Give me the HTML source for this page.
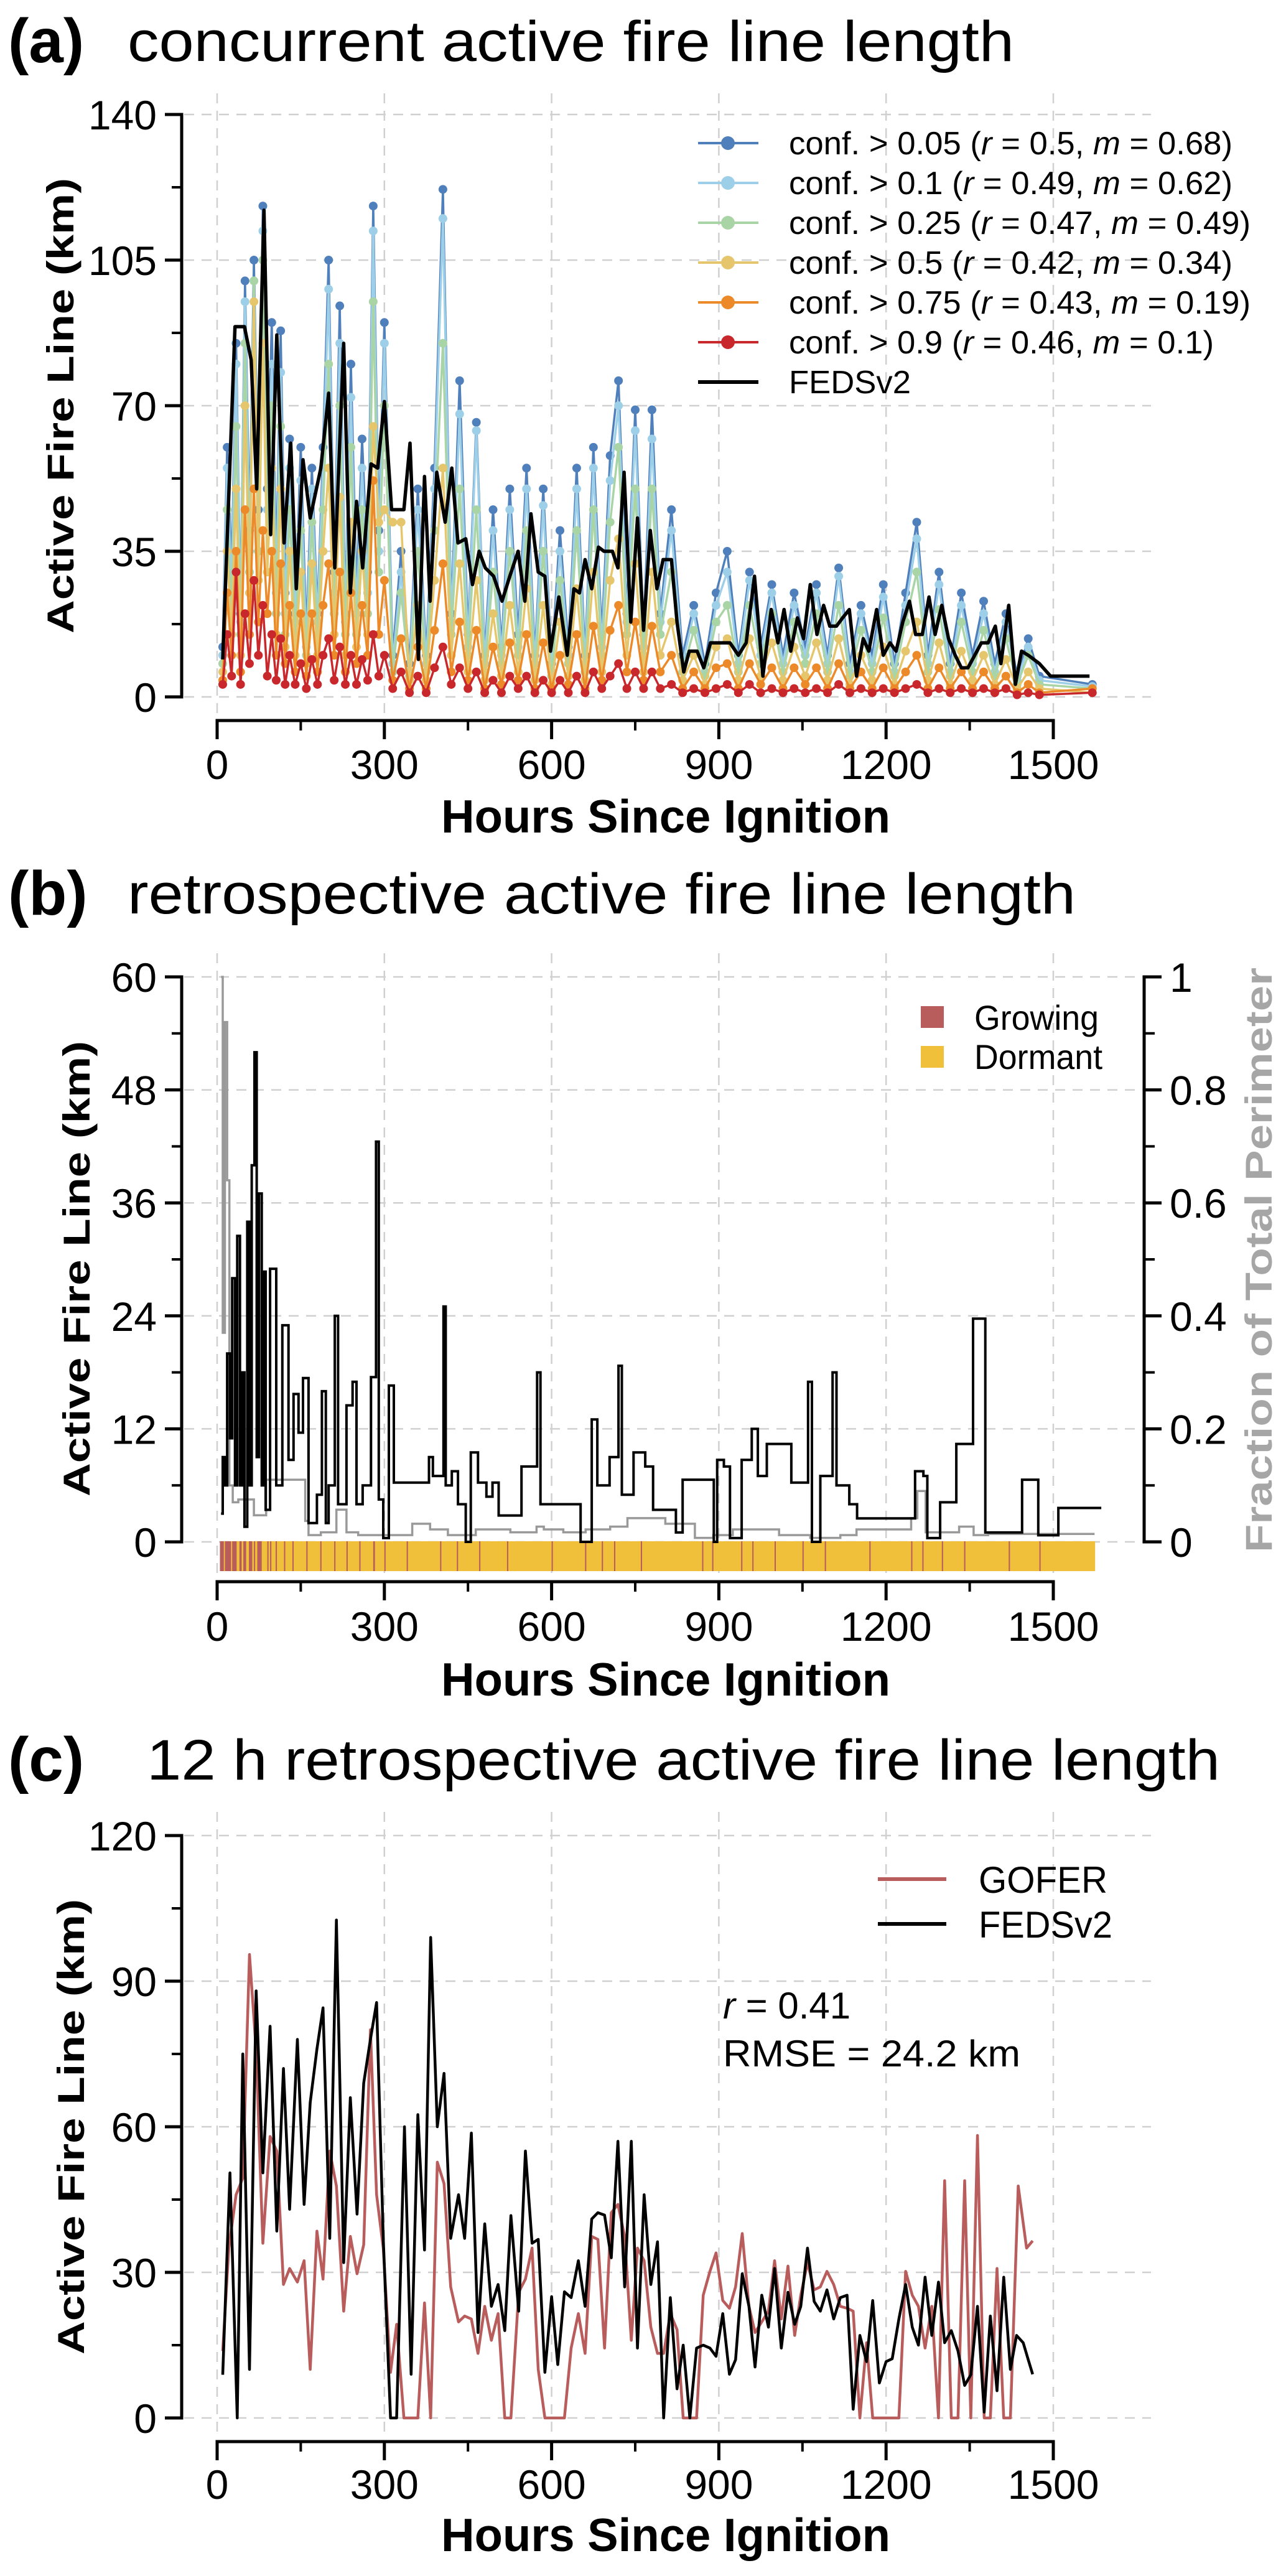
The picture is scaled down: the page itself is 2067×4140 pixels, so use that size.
<!DOCTYPE html>
<html><head><meta charset="utf-8">
<style>
html,body{margin:0;padding:0;background:#fff;}
svg{display:block;font-family:"Liberation Sans",Arial,sans-serif;}
</style></head>
<body>
<svg id="fig" xmlns="http://www.w3.org/2000/svg" width="2067" height="4140" viewBox="0 0 2067 4140">
  <rect width="2067" height="4140" fill="#fff"/>
  <!-- Titles -->
  <text x="13" y="100" font-size="100" font-weight="bold">(a)</text>
  <text x="205" y="98" font-size="92" textLength="1425" lengthAdjust="spacingAndGlyphs">concurrent active fire line length</text>
  <text x="13" y="1470" font-size="100" font-weight="bold">(b)</text>
  <text x="205" y="1468" font-size="92" textLength="1524" lengthAdjust="spacingAndGlyphs">retrospective active fire line length</text>
  <text x="13" y="2862" font-size="100" font-weight="bold">(c)</text>
  <text x="236" y="2860" font-size="92" textLength="1725" lengthAdjust="spacingAndGlyphs">12 h retrospective active fire line length</text>

  <!-- Axis titles -->
  <text transform="translate(118,652) rotate(-90)" text-anchor="middle" font-size="60" font-weight="bold" textLength="732" lengthAdjust="spacingAndGlyphs">Active Fire Line (km)</text>
  <text transform="translate(144,2039) rotate(-90)" text-anchor="middle" font-size="60" font-weight="bold" textLength="732" lengthAdjust="spacingAndGlyphs">Active Fire Line (km)</text>
  <text transform="translate(135,3418) rotate(-90)" text-anchor="middle" font-size="60" font-weight="bold" textLength="732" lengthAdjust="spacingAndGlyphs">Active Fire Line (km)</text>
  <text transform="translate(2044,2025) rotate(-90)" text-anchor="middle" font-size="60" font-weight="bold" fill="#a6a6a6" textLength="940" lengthAdjust="spacingAndGlyphs">Fraction of Total Perimeter</text>
  <text x="1070" y="1338" text-anchor="middle" font-size="75" font-weight="bold" textLength="722" lengthAdjust="spacingAndGlyphs">Hours Since Ignition</text>
  <text x="1070" y="2725" text-anchor="middle" font-size="75" font-weight="bold" textLength="722" lengthAdjust="spacingAndGlyphs">Hours Since Ignition</text>
  <text x="1070" y="4100" text-anchor="middle" font-size="75" font-weight="bold" textLength="722" lengthAdjust="spacingAndGlyphs">Hours Since Ignition</text>

  <g id="grids"></g>
  <g id="marksA"></g>
  <g id="marksB"></g>
  <g id="marksC"></g>
  <g id="axes"></g>

  <!-- Legend A -->
  <g font-size="52">
    <g><line x1="1122" y1="230" x2="1219" y2="230" stroke="#4f80bb" stroke-width="4"/><circle cx="1170" cy="230" r="11" fill="#4f80bb"/><text x="1268" y="248" textLength="713" lengthAdjust="spacingAndGlyphs">conf. &gt; 0.05 (<tspan font-style="italic">r</tspan> = 0.5, <tspan font-style="italic">m</tspan> = 0.68)</text></g>
    <g><line x1="1122" y1="294" x2="1219" y2="294" stroke="#9dcfe8" stroke-width="4"/><circle cx="1170" cy="294" r="11" fill="#9dcfe8"/><text x="1268" y="312" textLength="713" lengthAdjust="spacingAndGlyphs">conf. &gt; 0.1 (<tspan font-style="italic">r</tspan> = 0.49, <tspan font-style="italic">m</tspan> = 0.62)</text></g>
    <g><line x1="1122" y1="358" x2="1219" y2="358" stroke="#a9d4a5" stroke-width="4"/><circle cx="1170" cy="358" r="11" fill="#a9d4a5"/><text x="1268" y="376" textLength="742" lengthAdjust="spacingAndGlyphs">conf. &gt; 0.25 (<tspan font-style="italic">r</tspan> = 0.47, <tspan font-style="italic">m</tspan> = 0.49)</text></g>
    <g><line x1="1122" y1="422" x2="1219" y2="422" stroke="#e5c66c" stroke-width="4"/><circle cx="1170" cy="422" r="11" fill="#e5c66c"/><text x="1268" y="440" textLength="713" lengthAdjust="spacingAndGlyphs">conf. &gt; 0.5 (<tspan font-style="italic">r</tspan> = 0.42, <tspan font-style="italic">m</tspan> = 0.34)</text></g>
    <g><line x1="1122" y1="486" x2="1219" y2="486" stroke="#ec8a2a" stroke-width="4"/><circle cx="1170" cy="486" r="11" fill="#ec8a2a"/><text x="1268" y="504" textLength="742" lengthAdjust="spacingAndGlyphs">conf. &gt; 0.75 (<tspan font-style="italic">r</tspan> = 0.43, <tspan font-style="italic">m</tspan> = 0.19)</text></g>
    <g><line x1="1122" y1="550" x2="1219" y2="550" stroke="#c8282c" stroke-width="4"/><circle cx="1170" cy="550" r="11" fill="#c8282c"/><text x="1268" y="568" textLength="683" lengthAdjust="spacingAndGlyphs">conf. &gt; 0.9 (<tspan font-style="italic">r</tspan> = 0.46, <tspan font-style="italic">m</tspan> = 0.1)</text></g>
    <g><line x1="1122" y1="614" x2="1219" y2="614" stroke="#000" stroke-width="6"/><text x="1268" y="632" textLength="196" lengthAdjust="spacingAndGlyphs">FEDSv2</text></g>
  </g>
  <!-- Legend B -->
  <g font-size="56">
    <g><rect x="1480" y="1617" width="37" height="35" fill="#b85c5c"/><text x="1566" y="1655" textLength="200" lengthAdjust="spacingAndGlyphs">Growing</text></g>
    <g><rect x="1480" y="1681" width="37" height="35" fill="#f0c03a"/><text x="1566" y="1718" textLength="206" lengthAdjust="spacingAndGlyphs">Dormant</text></g>
  </g>
  <!-- Legend C -->
  <g font-size="60">
    <g><line x1="1411" y1="3020" x2="1521" y2="3020" stroke="#b85c5c" stroke-width="6"/><text x="1573" y="3042" textLength="207" lengthAdjust="spacingAndGlyphs">GOFER</text></g>
    <g><line x1="1411" y1="3092" x2="1521" y2="3092" stroke="#000" stroke-width="6"/><text x="1573" y="3114" textLength="215" lengthAdjust="spacingAndGlyphs">FEDSv2</text></g>
  </g>
  <text x="1162" y="3244" font-size="60"><tspan font-style="italic">r</tspan> = 0.41</text>
  <text x="1162" y="3321" font-size="60" textLength="478" lengthAdjust="spacingAndGlyphs">RMSE = 24.2 km</text>
</svg>
<script>
// ---------- Panel A data ----------
const hoursA = [10,18,26,34,42,50,58,66,74,82,90,98,106,114,122,130,140,150,160,170,180,190,200,210,220,230,240,250,260,270,280,290,300,
315,330,345,360,375,390,405,420,435,450,465,480,495,510,525,540,555,570,585,600,615,630,645,660,675,690,705,720,735,750,765,780,795,
815,835,855,875,895,915,935,955,975,995,1015,1035,1055,1075,1095,1115,1135,1155,1175,1195,1215,1235,1255,1275,1295,1315,1335,1355,1375,1395,1415,1435,1455,1475,1570];
const conf005 = [12,60,30,85,20,100,40,105,45,118,50,90,30,88,25,62,20,60,15,55,20,60,105,30,94,20,80,25,62,30,118,40,90,
10,35,8,50,10,55,122,20,76,15,66,10,45,12,50,15,55,10,50,8,40,12,55,10,60,15,58,76,20,69,15,69,20,
45,10,22,8,25,35,10,30,12,27,10,25,12,27,10,31,8,22,10,27,8,25,42,10,30,8,25,10,23,8,20,5,14,5,3];
const conf01 = [10,55,25,80,18,95,35,100,40,112,45,80,25,78,20,55,18,52,12,50,18,55,98,25,85,18,72,20,55,25,112,35,85,
8,30,6,45,8,50,115,18,68,12,64,8,40,10,45,12,50,8,46,6,35,10,50,8,55,12,52,70,18,64,12,62,18,
40,8,20,6,22,30,8,28,10,25,8,22,10,25,8,29,6,20,8,24,6,22,38,8,27,6,22,8,20,6,18,4,12,4,2.5];
const conf025 = [8,45,20,65,15,85,30,100,35,105,40,70,20,65,15,45,15,40,10,42,15,45,80,20,70,15,60,15,45,20,95,30,70,
6,25,5,35,6,40,85,15,50,10,45,6,30,8,35,10,40,6,35,5,28,8,40,6,45,10,42,60,15,50,10,50,15,
30,6,16,5,18,22,6,22,8,20,6,18,8,20,6,22,5,16,6,19,5,18,30,6,21,5,18,6,16,5,14,3,10,3,2];
const conf05 = [6,35,15,50,10,70,25,95,28,85,30,55,15,50,12,35,10,30,8,32,10,35,55,15,48,10,42,12,35,15,65,42,45,
42,42,4,22,4,28,55,10,32,6,28,4,20,5,22,6,26,4,22,3,18,5,26,4,30,6,28,38,10,32,6,30,10,
18,4,10,3,12,14,4,14,5,13,4,12,5,13,4,14,3,10,4,12,3,11,18,4,13,3,11,4,10,3,9,2,6,2,1];
const conf075 = [4,25,10,35,6,45,15,50,18,40,20,35,10,32,8,22,6,20,5,20,6,22,32,10,30,6,25,8,22,10,52,15,28,
4,14,2,12,2,16,32,6,18,4,16,2,12,3,13,4,15,2,13,2,10,3,15,2,17,4,16,22,6,18,4,17,6,
10,2,6,2,7,8,2,8,3,7,2,7,3,7,2,8,2,6,2,7,2,6,10,2,7,2,6,2,6,2,5,1,3,1,2];
const conf09 = [3,15,5,30,3,20,8,28,10,22,5,15,4,14,3,10,3,8,2,9,3,10,14,4,12,3,10,3,9,4,15,5,10,
2,6,1,5,1,7,12,3,7,2,6,1,4,1,5,2,5,1,4,1,4,1,5,1,6,2,5,8,2,6,2,6,2,
3,1,2,1,2,3,1,3,1,2,1,2,1,2,1,3,1,2,1,2,1,2,3,1,2,1,2,1,2,1,2,0.5,1,0.5,1];
const fedsHoursA = [10,32,49,61,71,84,96,107,120,132,142,154,167,186,200,211,227,239,250,261,276,288,300,313,335,346,361,372,382,394,409,421,432,446,458,470,481,496,511,525,540,552,563,576,588,598,613,628,640,650,660,672,684,694,709,719,730,742,754,765,777,789,800,815,825,837,847,861,873,885,903,920,935,949,964,979,994,1006,1017,1029,1041,1052,1064,1076,1088,1099,1111,1122,1134,1147,1159,1169,1183,1195,1207,1218,1230,1242,1253,1265,1277,1288,1300,1312,1324,1335,1347,1359,1371,1383,1396,1406,1420,1432,1443,1455,1475,1495,1565];
const fedsA = [9,89,89,81,50,117,39,87,37,61,26,57,43,55,73,31,85,25,47,31,56,55,71,45,45,61,9,53,23,54,42,55,37,38,27,35,31,29,23,29,35,23,44,30,29,11,24,10,26,25,33,26,36,35,35,31,54,18,43,16,40,26,33,33,18,6,11,11,7,13,13,13,10,13,29,5,21,13,21,11,19,14,27,15,22,17,17,19,21,5,14,11,21,10,13,11,18,23,15,15,24,15,22,14,10,7,7,10,13,13,17,8,22,3,11,10,8,5,5];
const yTicksA = [0,35,70,105,140];
const xTicks = [0,300,600,900,1200,1500];

// ---------- Panel B data ----------
const hoursB = [7,10,14,18,23,27,32,36,41,45,49,54,58,62,67,71,75,80,83,87,95,106,117,128,137,146,154,164,179,188,195,200,211,217,232,243,250,261,276,285,290,298,308,317,372,380,387,406,410,421,432,446,455,468,483,494,505,546,563,574,580,645,652,672,682,704,720,726,747,768,782,823,835,890,891,897,909,920,941,959,970,986,1008,1030,1060,1067,1082,1104,1111,1134,1148,1178,1248,1252,1267,1274,1297,1326,1349,1356,1373,1378,1422,1444,1463,1473,1503,1509,1586];
const lineB = [3,9,6,20,11,28,6,32.5,6,18,1.6,34,6,40,52,9,37,6,28.7,3.4,29,6,23,8.7,15.7,11.6,17.4,2,5,16,2,6,24,4,14.5,17,4,6,17.5,42.5,4.5,0.4,16.6,6.3,6.3,9,7,25,6,7.5,4,0,9.5,6.3,4.8,6.3,2.8,8,8,18,4,4,0,13,6,9,18.7,5,9.5,8,3.4,1,6.6,6.6,0,8.7,8,0.4,8.7,12,7,10.4,10.4,6.3,17,0,7,18,6,4,2.5,2.5,2.5,7.5,7,0.4,4.2,10.4,10.4,23.7,23.7,1,1,6.6,6.6,0.7,0.7,3.6,3.6];
const fracHoursB = [7,10,14,18,22,28,38,66,88,115,158,164,186,214,232,253,264,350,376,382,414,455,464,526,573,586,621,661,705,736,804,857,890,925,1008,1050,1064,1118,1147,1174,1245,1256,1267,1271,1331,1357,1383,1499,1574];
const fracB = [1.0,0.37,0.92,0.64,0.1,0.07,0.075,0.047,0.11,0.11,0.037,0.012,0.017,0.057,0.017,0.012,0.012,0.032,0.032,0.022,0.012,0.012,0.022,0.017,0.027,0.022,0.017,0.022,0.027,0.042,0.032,0.007,0.012,0.022,0.012,0.012,0.007,0.012,0.022,0.022,0.042,0.09,0.09,0.017,0.027,0.012,0.014,0.014,0.014];
const growStart = [5,14,27,40,47,57,66,72,90,95,105,120,135,160,185,210,232,255,280,300,340,400,430,470,520,600,660,690,712,760,870,888,940,960,1000,1050,1090,1170,1245,1265,1300,1340,1420,1475];
const growEnd   = [12,25,35,44,52,63,68,80,92,97,107,121,137,161,187,212,233,256,283,301,341,402,431,471,521,601,662,691,714,761,872,890,941,961,1001,1052,1091,1172,1246,1266,1301,1341,1421,1476];
const yTicksB = [0,12,24,36,48,60];
const yTicksBRight = [0,0.2,0.4,0.6,0.8,1];

// ---------- Panel C data ----------
const hoursFedsC = [10,23,36,46,58,70,82,95,107,119,130,144,156,167,179,190,202,214,227,239,251,263,275,286,298,311,322,336,348,360,372,383,395,407,419,433,444,456,468,480,492,504,516,527,541,553,565,576,588,600,611,623,635,648,660,672,683,695,707,719,731,743,754,766,778,790,801,813,825,836,848,860,872,884,895,907,919,930,942,954,965,977,989,1000,1012,1024,1036,1047,1059,1071,1082,1094,1106,1118,1130,1141,1153,1165,1176,1188,1200,1211,1223,1235,1247,1258,1270,1282,1294,1305,1317,1329,1341,1352,1364,1376,1387,1399,1411,1423,1434,1446,1455,1463];
const fedsC = [8.9,50.5,0,75,10,88,50.5,80.7,38.5,72,43,78,44,65,76,84.5,37,102.6,32,66,42,69,78,85.6,37,0,0,60,9,62.5,34.6,99,60,71,37,46,37,58.7,17.6,40,23,27.5,18,41.7,22,55,36,36.8,9.4,25,11,26,24.8,32.4,23,41,42.3,41.8,33,57,27,57,14.4,46,27.5,36.3,0,24.8,6,15,0,14.4,15,14.4,12.7,21.5,9,12,29.7,23,10.5,25.3,18.7,30.8,14.4,25.9,19.3,23,35,24,22,26.4,20.4,24.8,25.3,1.8,17,11.6,24.2,7.2,11.6,12.2,20.4,27.5,18.7,15,29,17,28,15.5,18,13.8,6.7,8.9,23,1.2,21,5.6,29,10,17,15.5,12,9];
const hoursGoferC = [10,21,34,46,58,70,82,95,107,119,130,144,156,167,179,190,202,214,227,239,251,263,275,286,298,311,322,335,360,372,383,395,407,419,433,444,456,468,480,492,504,516,527,541,553,565,576,588,623,635,648,660,672,683,695,707,719,731,743,754,766,778,790,801,813,825,836,860,872,884,895,907,919,930,942,954,965,977,989,1000,1012,1024,1036,1047,1059,1071,1082,1094,1106,1118,1130,1141,1153,1165,1176,1223,1235,1247,1258,1270,1282,1294,1305,1317,1329,1341,1352,1364,1376,1387,1399,1411,1423,1437,1452,1463];
const goferC = [13.8,35,46,49.4,95.5,75.7,36,58,55,27.5,30.8,28,32.4,10,38.5,28.6,55,47.8,22,37.4,29.7,35.7,80,46,35,9.4,19.3,0,0,23.7,0,52.7,48.3,27,19.8,21,20.4,13.3,23,16,21.5,0,0,25.9,28.6,35,10,0,0,14.4,21.5,13.3,37.4,36.8,14.4,42.3,44,37.4,16,35,32.4,18.7,13.3,13.3,21.5,18.2,0,0,25.3,30.2,34,24.2,22.6,27,38,23,17.6,19.8,22,32.4,20.4,31.3,17,25.3,32,26.4,27,30.2,27.5,23,22.6,22,0,15.5,0,0,30.2,25.3,23,14.4,23,0,48.9,0,0,48.9,0,58.2,0,0,30.8,0,0,47.8,35,36.5];
const yTicksC = [0,30,60,90,120];

const NS = "http://www.w3.org/2000/svg";
function mk(tag, parent){ const e=document.createElementNS(NS,tag); parent.appendChild(e); return e; }
function X(h){ return 349 + h*0.896; }
function YA(v){ return 1120 - v*936/140; }
function YB(v){ return 2478 - v*908/60; }
function YBR(f){ return 2478 - f*908; }
function YC(v){ return 3886 - v*936/120; }

const grids=document.getElementById('grids'), axes=document.getElementById('axes');

function gridlines(yticks, yf, top, bottom, tag){
  yticks.forEach(t=>{
    const l=mk('line',grids);
    
    
    l.setAttribute('x1',296); l.setAttribute('x2',1850); l.setAttribute('y1',yf(t)); l.setAttribute('y2',yf(t));
    l.setAttribute('stroke','#d0d0d0'); l.setAttribute('stroke-width',2.5); l.setAttribute('stroke-dasharray','16 12');
  });
  xTicks.forEach(t=>{
    const l=mk('line',grids);
    
    
    l.setAttribute('x1',X(t)); l.setAttribute('x2',X(t)); l.setAttribute('y1',top); l.setAttribute('y2',bottom);
    l.setAttribute('stroke','#d0d0d0'); l.setAttribute('stroke-width',2.5); l.setAttribute('stroke-dasharray','16 12');
  });
}
function line(x1,y1,x2,y2,w,parent,name){
  const l=mk('line',parent||axes);
  
  
  l.setAttribute('x1',x1);l.setAttribute('y1',y1);l.setAttribute('x2',x2);l.setAttribute('y2',y2);
  l.setAttribute('stroke','#000');l.setAttribute('stroke-width',w);l.setAttribute('stroke-linecap','butt');
}
function text(x,y,s,anchor,size,name){
  const t=mk('text',axes);
  
  
  t.setAttribute('x',x);t.setAttribute('y',y);t.setAttribute('text-anchor',anchor);t.setAttribute('font-size',size);
  t.textContent=s;
}
function axesFor(yticks, yf, xAxisY, xLabelY, tag){
  const top=yf(yticks[yticks.length-1]), bot=yf(yticks[0]);
  line(292,top-2.5,292,bot+2.5,5,null,tag+'-y-axis-line');
  yticks.forEach((t,i)=>{
    line(265,yf(t),292,yf(t),5,null,tag+'-y-major-tick');
    text(252,yf(t)+24,String(t),'end',66,tag+'-y-tick-label');
    if(i<yticks.length-1){ const m=(t+yticks[i+1])/2; line(276,yf(m),292,yf(m),4,null,tag+'-y-minor-tick'); }
  });
  line(X(0)-2.5,xAxisY,X(1500)+2.5,xAxisY,5,null,tag+'-x-axis-line');
  xTicks.forEach((t,i)=>{
    line(X(t),xAxisY,X(t),xAxisY+30,5,null,tag+'-x-major-tick');
    text(X(t),xLabelY,String(t),'middle',66,tag+'-x-tick-label');
    if(i<xTicks.length-1){ const m=(t+xTicks[i+1])/2; line(X(m),xAxisY,X(m),xAxisY+16,4,null,tag+'-x-minor-tick'); }
  });
}
function poly(xs, ys, xf, yf, color, w, parent, name){
  const p=mk('polyline',parent);
  
  
  p.setAttribute('points', xs.map((h,i)=>X(h).toFixed(1)+','+yf(ys[i]).toFixed(1)).join(' '));
  p.setAttribute('fill','none');p.setAttribute('stroke',color);p.setAttribute('stroke-width',w);p.setAttribute('stroke-linejoin','round');
  return p;
}
function stepPoly(xs, ys, yf, color, w, parent, name){
  const pts=[];
  xs.forEach((h,i)=>{ if(i>0) pts.push(X(h).toFixed(1)+','+yf(ys[i-1]).toFixed(1)); pts.push(X(h).toFixed(1)+','+yf(ys[i]).toFixed(1)); });
  const p=mk('polyline',parent);
  
  
  p.setAttribute('points',pts.join(' '));
  p.setAttribute('fill','none');p.setAttribute('stroke',color);p.setAttribute('stroke-width',w);
}

// Panel A
gridlines(yTicksA, YA, 150, 1152, 'panel-a');
const gA=document.getElementById('marksA');
const seriesA=[[conf005,'#4f80bb','conf-005'],[conf01,'#9dcfe8','conf-01'],[conf025,'#a9d4a5','conf-025'],[conf05,'#e5c66c','conf-05'],[conf075,'#ec8a2a','conf-075'],[conf09,'#c8282c','conf-09']];
seriesA.forEach(s=>{
  const g=mk('g',gA);
  
  
  poly(hoursA, s[0], X, YA, s[1], 3.5, g, 'line-'+s[2]);
  hoursA.forEach((h,i)=>{
    const c=mk('circle',g);
    
    
    c.setAttribute('cx',X(h));c.setAttribute('cy',YA(s[0][i]));c.setAttribute('r',7);c.setAttribute('fill',s[1]);
  });
});
poly(fedsHoursA, fedsA, X, YA, '#000', 5.5, gA, 'line-fedsv2-a');
axesFor(yTicksA, YA, 1158, 1252, 'panel-a');

// Panel B
gridlines(yTicksB, YB, 1532, 2540, 'panel-b');
const gB=document.getElementById('marksB');
const bg=mk('rect',gB);


bg.setAttribute('x',X(5));bg.setAttribute('y',2477);bg.setAttribute('width',X(1575)-X(5));bg.setAttribute('height',48);bg.setAttribute('fill','#f0c03a');
growStart.forEach((s,i)=>{
  const r=mk('rect',gB);
  
  
  r.setAttribute('x',X(s));r.setAttribute('y',2477);r.setAttribute('width',Math.max(2,X(growEnd[i])-X(s)));r.setAttribute('height',48);r.setAttribute('fill','#b85c5c');
});
stepPoly(fracHoursB, fracB, YBR, '#999', 3.5, gB, 'line-fraction-perimeter');
stepPoly(hoursB, lineB, YB, '#000', 4, gB, 'line-fedsv2-b');
axesFor(yTicksB, YB, 2542, 2637, 'panel-b');
line(1839,YBR(1)-2.5,1839,YBR(0)+2.5,5,null,'panel-b-right-axis-line');
yTicksBRight.forEach((t,i)=>{
  line(1839,YBR(t),1867,YBR(t),5,null,'panel-b-right-major-tick');
  text(1880,YBR(t)+24,String(t),'start',66,'panel-b-right-tick-label');
  if(i<yTicksBRight.length-1){ const m=(t+yTicksBRight[i+1])/2; line(1839,YBR(m),1856,YBR(m),4,null,'panel-b-right-minor-tick'); }
});

// Panel C
gridlines(yTicksC, YC, 2912, 3918, 'panel-c');
const gC=document.getElementById('marksC');
poly(hoursGoferC, goferC, X, YC, '#b85c5c', 4.5, gC, 'line-gofer');
poly(hoursFedsC, fedsC, X, YC, '#000', 4.5, gC, 'line-fedsv2-c');
axesFor(yTicksC, YC, 3924, 4016, 'panel-c');
</script>
</body></html>
